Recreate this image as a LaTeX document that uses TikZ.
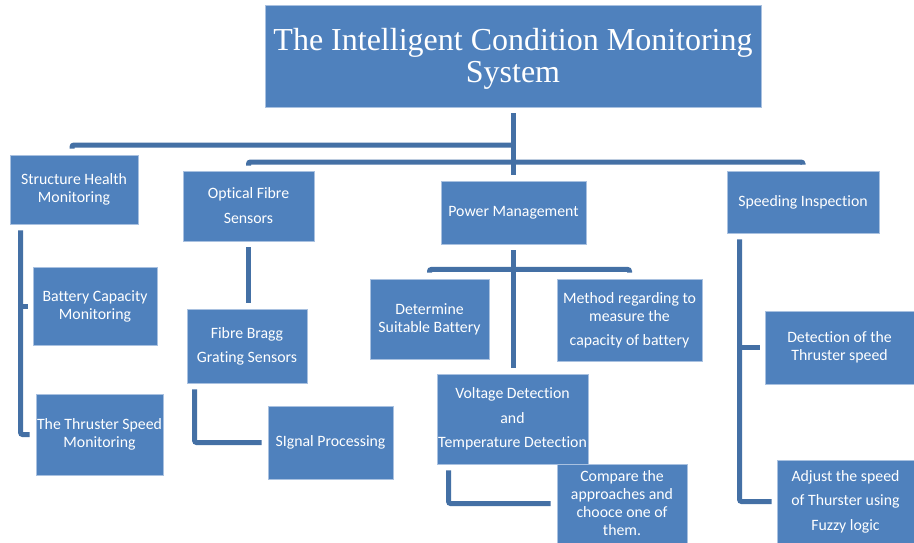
\documentclass[tikz,border=0pt]{standalone}
\usepackage{fontspec}
\setmainfont{Carlito}[Ligatures=NoCommon]
\newfontfamily\titlefont{Liberation Serif}
\usetikzlibrary{positioning}
\definecolor{boxblue}{HTML}{4F81BD}
\definecolor{boxedge}{HTML}{A9C1E0}
\definecolor{linkblue}{HTML}{4470A5}
\tikzset{
  bluebox/.style={fill=boxblue, draw=boxedge, line width=0.8pt, text=white, align=center, inner sep=0pt, font=\fontsize{15.8}{18}\selectfont},
  conn/.style={draw=linkblue, line width=5pt, rounded corners=2pt}
}

\begin{document}
\begin{tikzpicture}[x=1pt,y=-1pt]
\clip (0,0) rectangle (914,543);
\fill[white] (0,0) rectangle (914,543);

\node[bluebox, minimum width=496pt, minimum height=102pt](title) at (513,56) {};
\node[text=white, align=center, inner sep=0pt, font=\titlefont\fontsize{32}{32}\selectfont](titletext) at (513,59) {The Intelligent Condition Monitoring\\System};

\node[bluebox, minimum width=128pt, minimum height=69pt](shm) at (74,189.5) {Structure Health\\Monitoring};
\node[bluebox, minimum width=131pt, minimum height=70pt](ofs) at (248.5,206) {Optical Fibre\\[7pt]Sensors};
\node[bluebox, minimum width=145pt, minimum height=63pt](pm) at (513.5,212.5) {Power Management};
\node[bluebox, minimum width=152pt, minimum height=62pt](si) at (803,202) {Speeding Inspection};

\node[bluebox, minimum width=124pt, minimum height=78pt](bcm) at (95,306) {Battery Capacity\\Monitoring};
\node[bluebox, minimum width=127pt, minimum height=81pt](tsm) at (99.5,434.5) {The Thruster Speed\\Monitoring};

\node[bluebox, minimum width=120pt, minimum height=74pt](fbg) at (247,346) {Fibre Bragg\\[6pt]Grating Sensors};
\node[bluebox, minimum width=125pt, minimum height=73pt](sp) at (330.5,442.5) {SIgnal Processing};

\node[bluebox, minimum width=119pt, minimum height=80pt](dsb) at (429.5,319) {Determine\\Suitable Battery};
\node[bluebox, minimum width=145pt, minimum height=82pt](mrm) at (629.5,320) {Method regarding to\\measure the\\[6pt]capacity of battery};
\node[bluebox, minimum width=151pt, minimum height=90pt](vd) at (512.5,419) {Voltage Detection\\[6.5pt]and\\[6.5pt]Temperature Detection};
\node[bluebox, minimum width=130pt, minimum height=79pt](cmp) at (622,503.5) {Compare the\\approaches and\\chooce one of\\them.};

\node[bluebox, minimum width=149pt, minimum height=73pt](dts) at (839.5,347.5) {Detection of the\\Thruster speed};
\node[bluebox, minimum width=137pt, minimum height=83pt](adj) at (845.5,501.5) {Adjust the speed\\[6.5pt]of Thurster using\\[6.5pt]Fuzzy logic};

% top level
\coordinate (hubA) at (513,145);
\coordinate (hubB) at (513,162);
\draw[conn, shorten <=6pt, shorten >=6pt] (title.south) -- (title.south |- pm.north);
\draw[conn] ([yshift=6pt]shm.north -| 72,0) |- (hubA);
\draw[conn] ([yshift=5pt]ofs.north) |- (hubB) -| ([yshift=6pt]si.north);

% structure health
\coordinate (shmdrop) at ([xshift=11pt,yshift=-6pt]shm.south west);
\draw[conn] (shmdrop) |- ([xshift=-6pt]tsm.west);
\draw[conn] (shmdrop |- bcm.west) -- ([xshift=-5pt]bcm.west);

% optical fibre
\draw[conn] ([yshift=-6pt]ofs.south) -- ([yshift=6pt]ofs.south |- fbg.north);
\draw[conn] ([xshift=8pt,yshift=-6pt]fbg.south west) |- ([xshift=-6pt]sp.west);

% power management
\coordinate (pmbus) at ([yshift=-25pt]pm.south);
\draw[conn, shorten <=6pt, shorten >=6pt] (pm.south) -- (pm.south |- vd.north);
\draw[conn] ([yshift=6pt]dsb.north) |- (pmbus) -| ([yshift=6pt]mrm.north);
\draw[conn] ([xshift=12pt,yshift=-6pt]vd.south west) |- ([xshift=-6pt]cmp.west);

% speeding inspection
\coordinate (sidrop) at ([xshift=13pt,yshift=-6pt]si.south west);
\draw[conn] (sidrop) |- ([xshift=-5pt]adj.west);
\draw[conn] (sidrop |- dts.west) -- ([xshift=-5pt]dts.west);
\end{tikzpicture}
\end{document}
